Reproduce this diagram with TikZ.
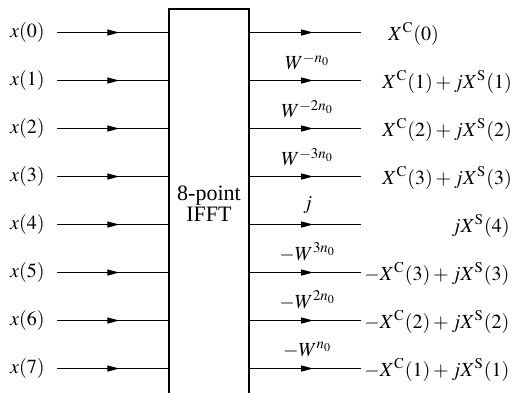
\documentclass[tikz,border=0pt]{standalone}
\usepackage{mathptmx}
\usepackage[no-math]{fontspec}
\setmainfont{Liberation Serif}
\newfontfamily\blockfont{Liberation Serif}
\usetikzlibrary{arrows.meta, positioning, decorations.markings}
\medmuskip=2.5mu plus 1mu minus 1mu

\begin{document}
\begin{tikzpicture}[x=0.5pt, y=-0.5pt, >=Stealth,
    sig/.style={line width=0.6pt, postaction={decorate},
      decoration={markings, mark=at position #1 with {\arrow{Triangle[length=6pt, width=3pt]}}}},
    sig/.default=0.56,
    gain/.style={above=5pt, inner sep=0pt},
    inlabel/.style={left=6pt of #1, inner sep=0pt},
    outlabel/.style={anchor=mid west, inner sep=0pt}]
    \useasboundingbox (0,0) rectangle (517,392);
    % the transform block, its lower edge runs off the page
    \node[draw, line width=0.7pt, minimum width=40pt, minimum height=194.5pt, align=center, font=\blockfont\fontsize{11}{12}\selectfont] (ifft) at (209,203.5) {8-point\\[-1.5pt]IFFT};
    % inputs
    \coordinate (a0) at (57,32.5);
    \coordinate (a1) at (57,80.5);
    \coordinate (a2) at (57,128.5);
    \coordinate (a3) at (57,176.5);
    \coordinate (a4) at (57,224.5);
    \coordinate (a5) at (57,272.5);
    \coordinate (a6) at (57,320.5);
    \coordinate (a7) at (57,368.5);
    \node[inlabel=a0] (x0) {$x(0)$};
    \node[inlabel=a1] (x1) {$x(1)$};
    \node[inlabel=a2] (x2) {$x(2)$};
    \node[inlabel=a3] (x3) {$x(3)$};
    \node[inlabel=a4] (x4) {$x(4)$};
    \node[inlabel=a5] (x5) {$x(5)$};
    \node[inlabel=a6] (x6) {$x(6)$};
    \node[inlabel=a7] (x7) {$x(7)$};
    \draw[sig] (a0) -- (a0 -| ifft.west);
    \draw[sig] (a1) -- (a1 -| ifft.west);
    \draw[sig] (a2) -- (a2 -| ifft.west);
    \draw[sig] (a3) -- (a3 -| ifft.west);
    \draw[sig] (a4) -- (a4 -| ifft.west);
    \draw[sig] (a5) -- (a5 -| ifft.west);
    \draw[sig] (a6) -- (a6 -| ifft.west);
    \draw[sig] (a7) -- (a7 -| ifft.west);
    % outputs with their twiddle factors
    \coordinate (b0) at (361,32.5);
    \coordinate (b1) at (361,80.5);
    \coordinate (b2) at (361,128.5);
    \coordinate (b3) at (361,176.5);
    \coordinate (b4) at (361,224.5);
    \coordinate (b5) at (361,272.5);
    \coordinate (b6) at (361,320.5);
    \coordinate (b7) at (361,368.5);
    \draw[sig=0.57] (b0 -| ifft.east) -- (b0);
    \draw[sig=0.57] (b1 -| ifft.east) -- (b1) node[gain, pos=0.52] (g1) {$W^{-n_0}$};
    \draw[sig=0.57] (b2 -| ifft.east) -- (b2) node[gain, pos=0.52] (g2) {$W^{-2n_0}$};
    \draw[sig=0.57] (b3 -| ifft.east) -- (b3) node[gain, pos=0.52] (g3) {$W^{-3n_0}$};
    \draw[sig=0.57] (b4 -| ifft.east) -- (b4) node[gain, pos=0.52] (g4) {$j$};
    \draw[sig=0.57] (b5 -| ifft.east) -- (b5) node[gain, pos=0.52] (g5) {$-W^{3n_0}$};
    \draw[sig=0.57] (b6 -| ifft.east) -- (b6) node[gain, pos=0.52] (g6) {$-W^{2n_0}$};
    \draw[sig=0.57] (b7 -| ifft.east) -- (b7) node[gain, pos=0.52] (g7) {$-W^{n_0}$};
    \node[outlabel] (y0) at (388,35.5) {$X^{\mathrm{C}}(0)$};
    \node[outlabel] (y1) at (382,83.5) {$X^{\mathrm{C}}(1)+jX^{\mathrm{S}}(1)$};
    \node[outlabel] (y2) at (382,131.5) {$X^{\mathrm{C}}(2)+jX^{\mathrm{S}}(2)$};
    \node[outlabel] (y3) at (382,179.5) {$X^{\mathrm{C}}(3)+jX^{\mathrm{S}}(3)$};
    \node[outlabel, anchor=mid east] (y4) at (510,227.5) {$jX^{\mathrm{S}}(4)$};
    \node[outlabel] (y5) at (364,275.5) {$-X^{\mathrm{C}}(3)+jX^{\mathrm{S}}(3)$};
    \node[outlabel] (y6) at (364,323.5) {$-X^{\mathrm{C}}(2)+jX^{\mathrm{S}}(2)$};
    \node[outlabel] (y7) at (364,371.5) {$-X^{\mathrm{C}}(1)+jX^{\mathrm{S}}(1)$};
\end{tikzpicture}
\end{document}
